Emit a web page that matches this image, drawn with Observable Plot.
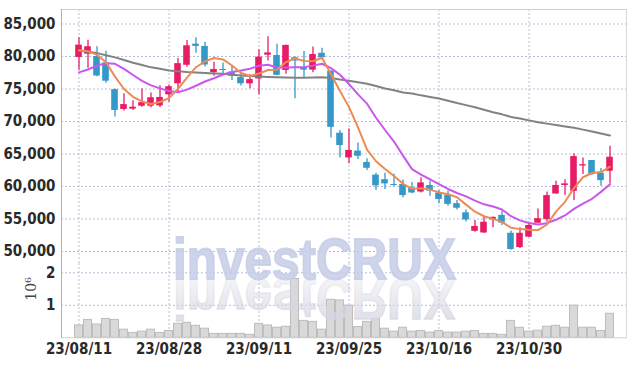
<!DOCTYPE html>
<html>
<head>
<meta charset="utf-8">
<script src="https://cdn.jsdelivr.net/npm/d3@7"></script>
<script src="https://cdn.jsdelivr.net/npm/@observablehq/plot@0.6"></script>
<style>
  html, body { margin: 0; padding: 0; background: #fff; }
  #wrap { position: relative; width: 634px; height: 366px; overflow: hidden; }
  #wrap > svg.plot { display: block; }
  #wm { position: absolute; left: 0; top: 0; pointer-events: none; }
</style>
</head>
<body>
<div id="wrap"></div>
<script>
// ---- data ----
const dates = ["23/08/11","23/08/14","23/08/16","23/08/17","23/08/18","23/08/21","23/08/22","23/08/23","23/08/24","23/08/25",
  "23/08/28","23/08/29","23/08/30","23/08/31","23/09/01","23/09/04","23/09/05","23/09/06","23/09/07","23/09/08",
  "23/09/11","23/09/12","23/09/13","23/09/14","23/09/15","23/09/18","23/09/19","23/09/20","23/09/21","23/09/22",
  "23/09/25","23/09/26","23/09/27","23/10/04","23/10/05","23/10/06","23/10/10","23/10/11","23/10/12","23/10/13",
  "23/10/16","23/10/17","23/10/18","23/10/19","23/10/20","23/10/23","23/10/24","23/10/25","23/10/26","23/10/27",
  "23/10/30","23/10/31","23/11/01","23/11/02","23/11/03","23/11/06","23/11/07","23/11/08","23/11/09","23/11/10"];
const opens  = [79850,80350,80000,79000,74900,71850,71900,72350,72350,72400,74100,75800,78650,81900,81550,77500,78000,77600,76750,75800,
  76550,80200,80150,77850,79800,78150,77900,80500,77750,68200,64400,65450,63700,61750,61050,60300,60300,59750,59150,60150,
  59000,58650,57350,55950,53100,52850,54850,55550,52800,50600,52200,54350,54900,58850,60150,59250,63150,64000,62050,62350];
const closes = [81750,81500,77000,76200,71700,72600,72200,72900,73650,73700,75350,78900,81650,81550,78700,78000,77850,76950,75800,76450,
  79900,80550,77100,81700,79300,77900,80300,79800,69100,66300,65550,64650,62800,60100,60400,60150,58600,59000,60550,59300,
  58000,57250,56650,54850,53850,54500,55250,54350,50300,52800,54000,55050,58600,60150,60400,64600,63350,61850,60900,64500];
const highs  = [82900,82500,81500,80800,75000,74250,73200,75000,74400,75500,75600,79700,82450,82900,82200,79100,79000,78600,77600,77200,
  81050,83050,81900,81750,79950,80750,81450,81250,77750,68600,68850,66700,64250,62050,62050,61900,61000,60600,61350,60800,
  59400,59300,57850,56400,54750,55250,55300,56150,53150,53650,54400,56550,59150,60800,61050,65050,64400,64000,62750,66200];
const lows   = [77900,78200,76900,75900,70700,71600,71700,72200,72100,72150,72950,74300,78350,80500,78400,76950,77100,76300,75450,75050,
  74100,79300,77050,77250,73500,76750,77500,79500,67450,64400,63500,64150,62450,59400,59550,60000,58250,58900,59000,58500,
  57350,56950,56400,54550,52950,52750,53650,54000,50200,50450,52150,54300,54500,58800,58600,57850,61850,61700,60050,60400];
const volumes = [380000,550000,410000,580000,550000,250000,150000,190000,250000,150000,210000,430000,460000,370000,280000,120000,120000,120000,120000,90000,
  430000,380000,310000,340000,1810000,520000,490000,250000,1170000,1150000,990000,330000,490000,580000,280000,190000,310000,190000,210000,160000,
  210000,160000,160000,190000,210000,120000,120000,90000,520000,310000,190000,220000,340000,370000,310000,990000,310000,310000,210000,740000];
const ma5  = [80970,80820,80250,79100,76900,75000,73800,73080,72700,73000,73600,75000,76750,78350,79250,79760,79550,78610,77460,77010,
  77390,77930,77960,79140,79710,79310,79260,79800,77280,74680,72210,69080,65680,63880,62700,61620,60410,59650,59740,59520,
  59090,58820,58350,57210,56120,55420,55020,54560,53650,53440,53340,53300,54150,56120,57640,59760,61420,62070,62220,63040];
const ma10 = [77550,78000,78600,78950,78870,78100,77150,76250,75550,75100,74680,74500,74900,75500,76150,76660,77225,77630,77845,78120,
  78575,78740,78285,78300,78360,78350,78595,78880,78210,77195,75760,74170,72740,70580,68690,66915,64745,62665,61810,61110,
  60355,59615,59000,58475,57820,57255,56920,56455,55430,54780,54380,54160,54355,54885,55540,56550,57360,58110,59170,60340];
const ma60 = [80870,80730,80520,80200,79860,79450,79040,78700,78330,78100,77860,77720,77600,77530,77460,77400,77340,77200,77070,76990,
  76920,76850,76790,76760,76740,76720,76770,76820,76700,76450,76250,76030,75800,75450,75080,74800,74450,74300,74020,73780,
  73530,73200,72840,72520,72200,71810,71430,71100,70700,70450,70170,69870,69670,69460,69240,69040,68750,68450,68140,67850];
const xTicks = ["23/08/11","23/08/28","23/09/11","23/09/25","23/10/16","23/10/30"];
const priceTicks = [50000,55000,60000,65000,70000,75000,80000,85000];
const volTicks = [1000000,2000000];

const rows = dates.map((d, i) => ({
  date: d, open: opens[i], close: closes[i], high: highs[i], low: lows[i],
  volume: volumes[i], ma5: ma5[i], ma10: ma10[i], ma60: ma60[i]
}));

const UP = "#e81c66", DOWN = "#3498c9";
const GRID = {stroke: "#b9bdd8", strokeOpacity: 1, strokeDasharray: "2,2", strokeWidth: 1};
const font = {fontFamily: "'Liberation Sans Narrow', 'DejaVu Sans Condensed', sans-serif", fontSize: "15px", fontWeight: "bold", color: "#2a2a2a", background: "transparent", overflow: "visible"};
const candleColor = d => d.close >= d.open ? UP : DOWN;

const price = Plot.plot({
  width: 634, height: 263,
  marginLeft: 61, marginRight: 8, marginTop: 9, marginBottom: 0,
  style: font,
  x: {type: "band", domain: dates, padding: 0, axis: null},
  y: {domain: [48150, 87230], axis: null},
  marks: [
    Plot.gridX(xTicks, GRID),
    Plot.gridY(priceTicks, GRID),
    Plot.frame({anchor: "top", stroke: "#cfcfcf"}),
    Plot.frame({anchor: "right", stroke: "#d8d8d8"}),
    Plot.frame({anchor: "left", stroke: "#b0b0b0"}),
    Plot.axisY(priceTicks, {tickSize: 0, tickPadding: 6, tickFormat: d3.format(","), label: null}),
    Plot.ruleX(rows, {x: "date", y1: "low", y2: "high", stroke: candleColor, strokeWidth: 1.3}),
    Plot.barY(rows, {x: "date", y1: "open", y2: "close", fill: candleColor, insetLeft: 1.2, insetRight: 1.2}),
    Plot.line(rows, {x: "date", y: "ma60", stroke: "#828282", strokeWidth: 2}),
    Plot.line(rows, {x: "date", y: "ma10", stroke: "#c957ec", strokeWidth: 2}),
    Plot.line(rows, {x: "date", y: "ma5", stroke: "#ee8a55", strokeWidth: 2})
  ]
});

const volume = Plot.plot({
  width: 634, height: 103,
  marginLeft: 61, marginRight: 8, marginTop: 0, marginBottom: 28.7,
  style: font,
  x: {type: "band", domain: dates, padding: 0, axis: null},
  y: {domain: [0, 2286000], axis: null},
  marks: [
    Plot.gridX(xTicks, GRID),
    Plot.gridY(volTicks, GRID),
    Plot.barY(rows, {x: "date", y: "volume", fill: "#d9d9d9", stroke: "#bdbdbd", strokeWidth: 1, insetLeft: 0.5, insetRight: 0.5}),
    Plot.frame({anchor: "left", stroke: "#b0b0b0"}),
    Plot.frame({anchor: "right", stroke: "#d8d8d8"}),
    Plot.ruleY([0], {stroke: "#cfcfcf"}),
    Plot.axisY(volTicks, {tickSize: 0, tickPadding: 6, tickFormat: d => d / 1e6, label: null}),
    Plot.axisX(xTicks, {tickSize: 0, tickPadding: 6, label: null}),
    Plot.text(["10⁶"], {frameAnchor: "left", dx: -30, rotate: -90, fontFamily: "'DejaVu Serif', serif", fontWeight: "normal", fontSize: 14, fill: "#444"})
  ]
});

const wrap = document.getElementById("wrap");
wrap.appendChild(price);
wrap.appendChild(volume);

// watermark "investCRUX" with a faded reflection
const wm = d3.select(wrap).append("svg").attr("id", "wm").attr("width", 634).attr("height", 366);
const defs = wm.append("defs");
const grad = defs.append("linearGradient").attr("id", "fade").attr("x1", 0).attr("y1", 0).attr("x2", 0).attr("y2", 1);
grad.append("stop").attr("offset", "0%").attr("stop-color", "#d6d6e2").attr("stop-opacity", 0.9);
grad.append("stop").attr("offset", "100%").attr("stop-color", "#d6d6e2").attr("stop-opacity", 0.1);
const wmText = (sel) => sel.text("investCRUX")
  .attr("x", 173).attr("y", 0)
  .attr("font-family", "'Liberation Sans', Arial, sans-serif")
  .attr("font-weight", "bold").attr("font-size", 57)
  .attr("textLength", 283).attr("lengthAdjust", "spacingAndGlyphs");
wm.append("g").attr("transform", "translate(0,279) scale(1,-1)")
  .append("text").call(wmText).attr("fill", "url(#fade)").attr("stroke", "url(#fade)").attr("stroke-width", 1.5);
wm.append("g").attr("transform", "translate(0,279)")
  .append("text").call(wmText).attr("fill", "#c6cce6").attr("fill-opacity", 0.85)
  .attr("stroke", "#c6cce6").attr("stroke-opacity", 0.85).attr("stroke-width", 1.8);
</script>
</body>
</html>
